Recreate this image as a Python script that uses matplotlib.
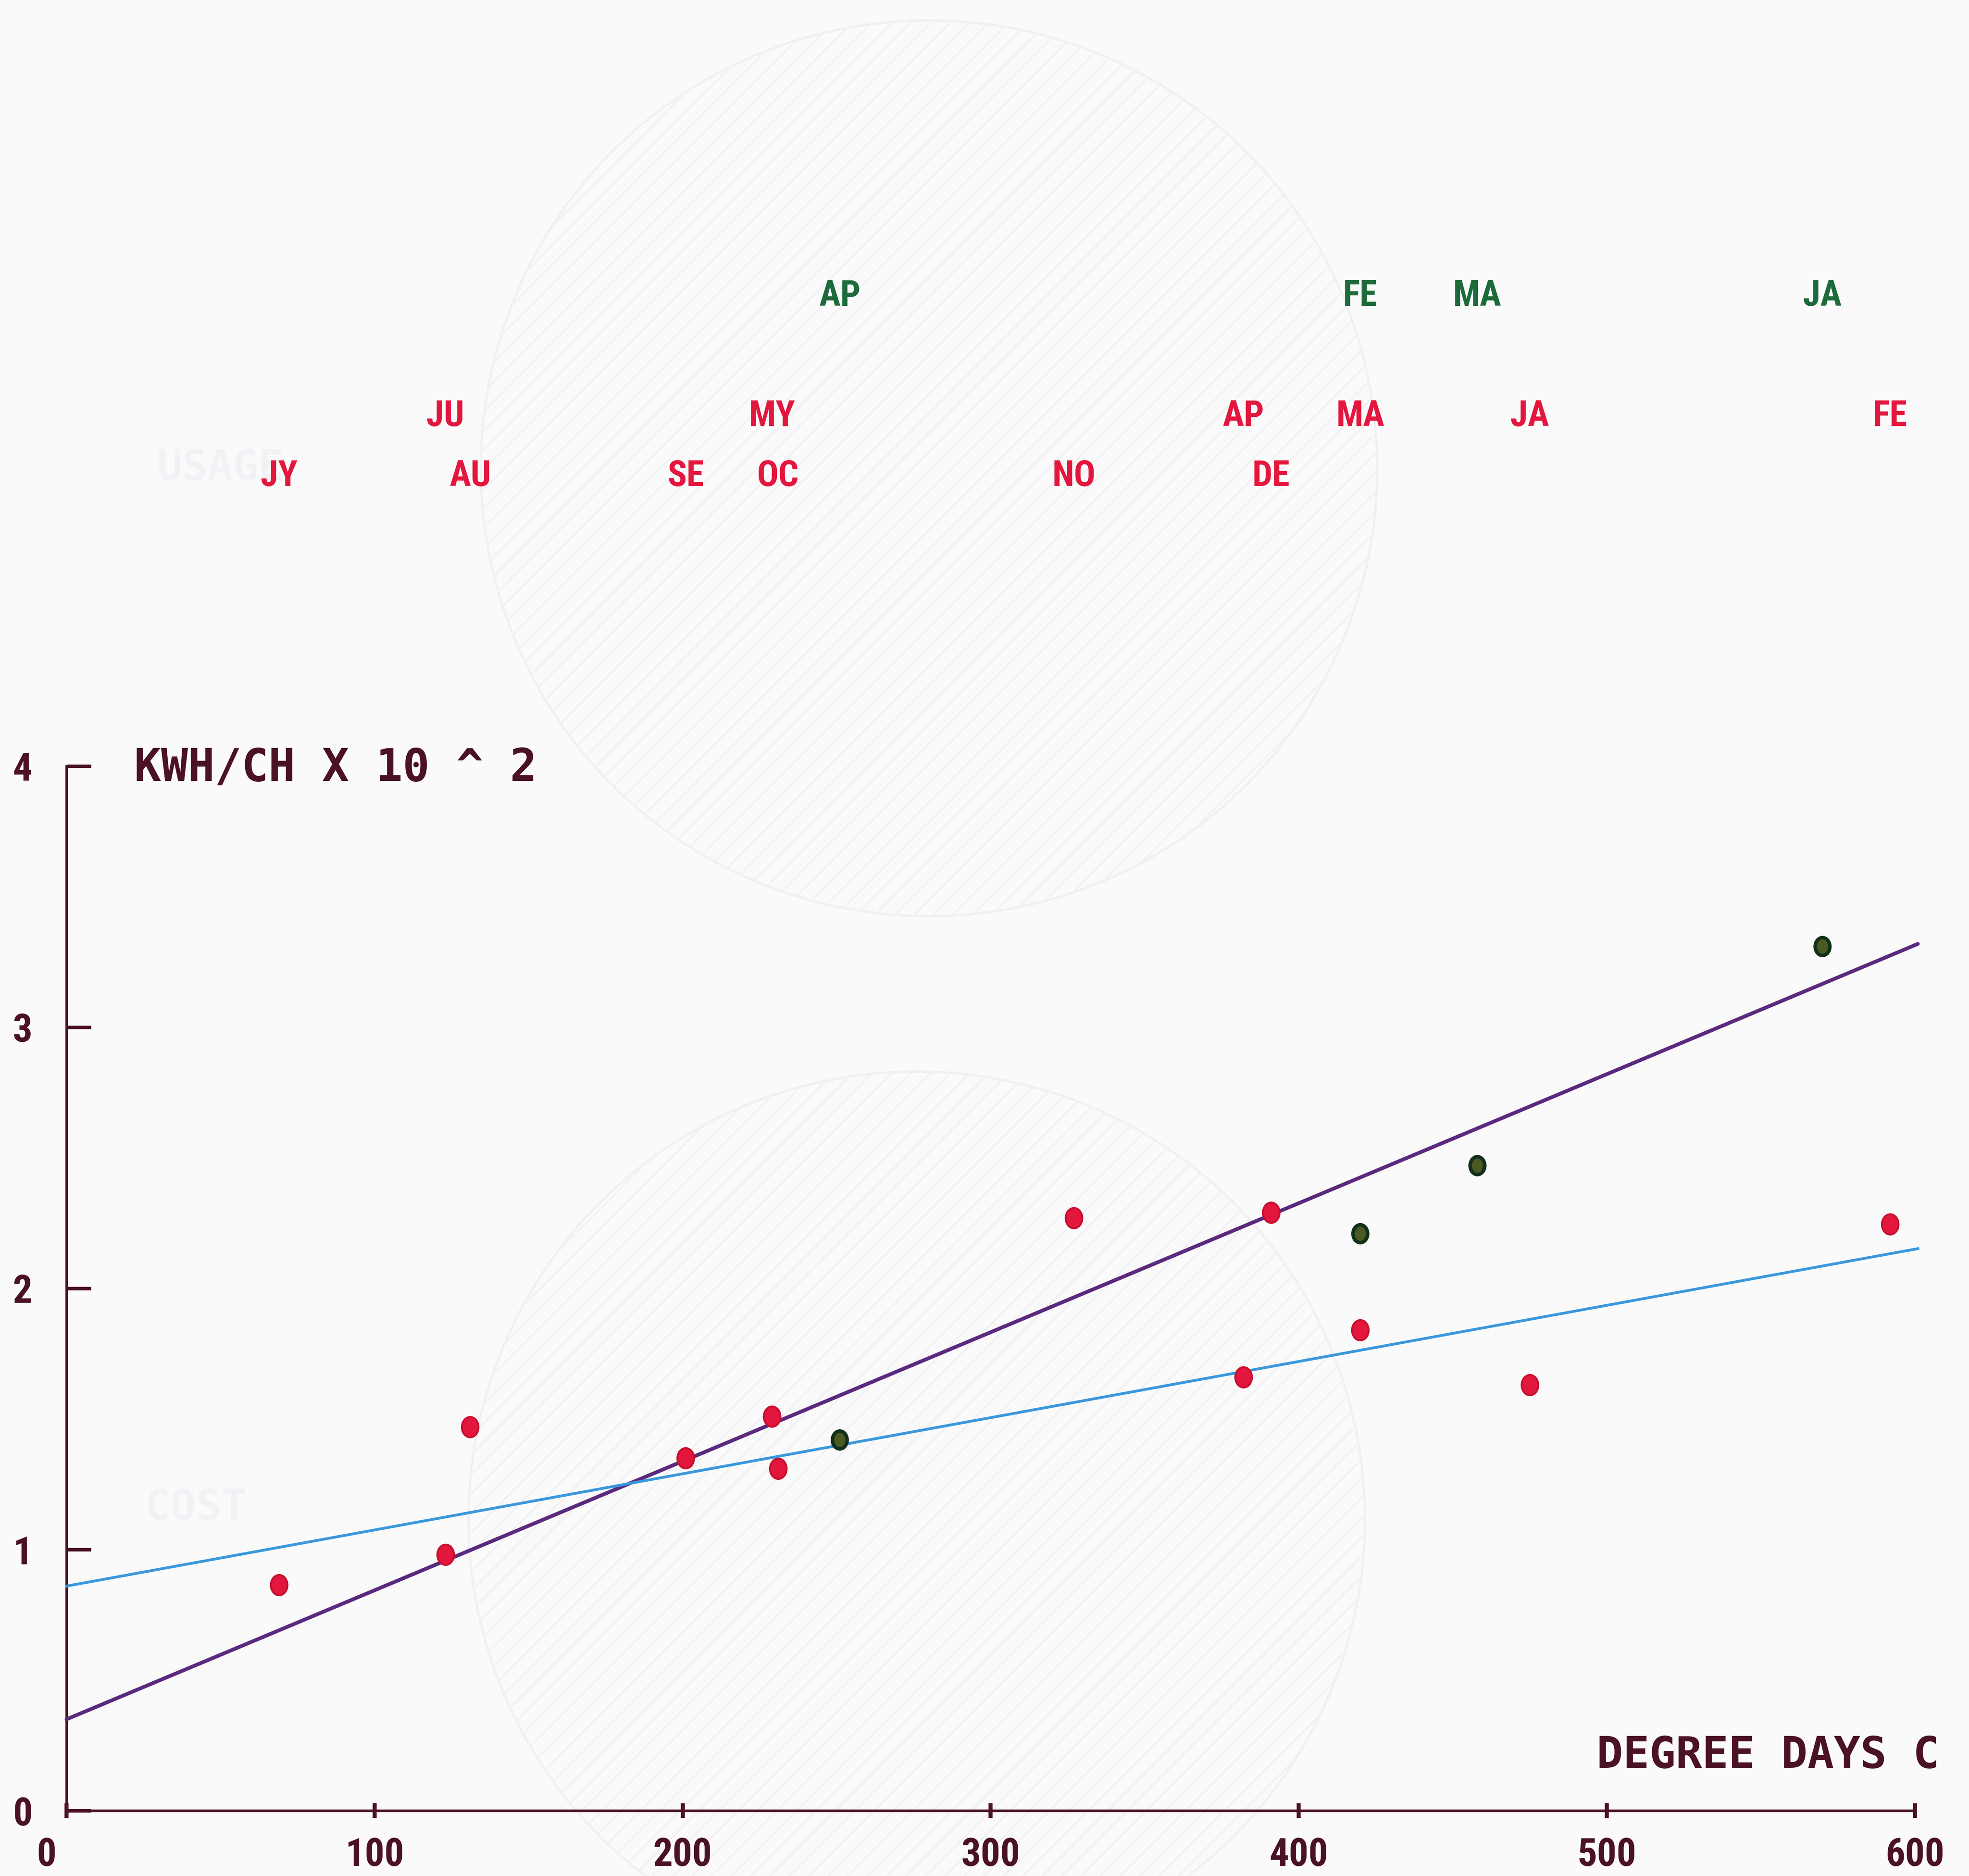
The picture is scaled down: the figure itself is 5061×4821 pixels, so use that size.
import numpy as np
import matplotlib
matplotlib.use("Agg")
import matplotlib.pyplot as plt
from matplotlib import font_manager
from matplotlib.patches import Ellipse
from matplotlib.path import Path

# red months (one year) and green months (next year)
red_months = ['JY', 'AU', 'SE', 'OC', 'NO', 'DE', 'JA', 'FE', 'MA', 'AP', 'MY', 'JU']
red_x = [69, 131, 201, 231, 327, 391, 475, 592, 420, 382, 229, 123]
red_y = [0.865, 1.47, 1.35, 1.31, 2.27, 2.29, 1.63, 2.245, 1.84, 1.66, 1.51, 0.98]

green_months = ['JA', 'FE', 'MA', 'AP']
green_x = [570, 420, 458, 251]
green_y = [3.31, 2.21, 2.47, 1.42]

# fitted lines: intercept, slope, x range
line_names = ['purple', 'blue']
line_a = [0.35, 0.86]
line_b = [0.00494, 0.00215]
line_x = [0, 601]

x_ticks = [0, 100, 200, 300, 400, 500, 600]
y_ticks = [0, 1, 2, 3, 4]

upper_row = ['JA', 'FE', 'MA', 'AP', 'MY', 'JU']

# narrow plotter-like lettering if some narrow family is around
fonts = font_manager.fontManager.ttflist
names = {f.name for f in fonts}
narrow = None
for n in ['Liberation Sans Narrow', 'Roboto Condensed', 'Open Sans Condensed', 'DejaVu Sans Condensed']:
    if n in names:
        narrow = n
        break
has_cond = any(f.name == 'DejaVu Sans' and f.stretch in ('condensed', 'semi-condensed') for f in fonts)
if narrow is None:
    narrow = 'DejaVu Sans'
    lab_size, tick_size = (21, 23) if has_cond else (19, 22)
else:
    lab_size, tick_size = 22, 24
stretch = 'condensed'
mono = 'DejaVu Sans Mono'

axis_col = '#4a1224'
red = '#e3173e'
green = '#1d6b3a'
purple = '#5b2a7e'
blue = '#3a98dc'
bg = '#fbfafb'

plt.rcParams['hatch.linewidth'] = 1.0
plt.rcParams['hatch.color'] = '#efeff5'
fig = plt.figure(figsize=(5061 / 300, 4821 / 300), dpi=300, facecolor=bg)
ax = fig.add_axes([0, 0, 1, 1])
ax.set_facecolor(bg)
ax.set_xlim(-21.6, 617.6)
ax.set_ylim(-0.25, 6.933)

# faint show-through from the other side of the page
for cx, cy in [(280, 5.14), (276, 1.115)]:
    ax.add_patch(Ellipse((cx, cy), 291, 3.43, facecolor='none', edgecolor='#f0f0f5',
                         hatch='//', lw=1.5, zorder=0))
ax.text(50, 5.14, 'USAGE', color='#f2f2f6', fontsize=26, fontweight='bold',
        family=mono, ha='center', va='center', zorder=0)
ax.text(42, 1.16, 'COST', color='#f2f2f6', fontsize=26, fontweight='bold',
        family=mono, ha='center', va='center', zorder=0)

# axes
for s in ['top', 'right']:
    ax.spines[s].set_visible(False)
ax.spines['left'].set_position(('data', 0))
ax.spines['bottom'].set_position(('data', 0))
ax.spines['left'].set_bounds(0, 4)
ax.spines['bottom'].set_bounds(0, 600)
for s in ['left', 'bottom']:
    ax.spines[s].set_color(axis_col)
    ax.spines[s].set_linewidth(1.6)

ax.set_yticks(y_ticks)
ax.set_yticklabels([str(v) for v in y_ticks])
ax.set_xticks(x_ticks)
ax.set_xticklabels([''] + [str(v) for v in x_ticks[1:]])
ax.tick_params(axis='y', direction='in', length=15, width=2.2, color=axis_col,
               pad=21, labelsize=tick_size, labelcolor=axis_col)
ax.tick_params(axis='x', direction='inout', length=9, width=2.5, color=axis_col,
               pad=11.5, labelsize=tick_size, labelcolor=axis_col)
for lab in ax.get_xticklabels() + ax.get_yticklabels():
    lab.set_family(narrow)
    lab.set_fontweight('bold')
    lab.set_fontstretch(stretch)
ax.annotate('0', xy=(0, 0), xytext=(-12.4, -16), textcoords='offset points',
            ha='center', va='top', fontsize=tick_size, fontweight='bold', family=narrow,
            fontstretch=stretch, color=axis_col)

ax.text(22, 3.99, 'KWH/CH X 10 ^ 2', family=mono, fontweight='bold', fontsize=27.5,
        color=axis_col, ha='left', va='center')
ax.text(608, 0.21, 'DEGREE DAYS C', family=mono, fontweight='bold', fontsize=27,
        color=axis_col, ha='right', va='center')

# fitted lines
xs = np.array(line_x)
ax.plot(xs, line_a[0] + line_b[0] * xs, color=purple, lw=2.3, solid_capstyle='round', zorder=3)
ax.plot(xs, line_a[1] + line_b[1] * xs, color=blue, lw=1.7, zorder=3)

# point marker: slightly tall rounded blob
circ = Path.unit_circle()
blob = Path(circ.vertices * np.array([0.82, 1.0]), circ.codes)

ax.plot(red_x, red_y, linestyle='none', marker=blob, markersize=12.5,
        markerfacecolor=red, markeredgecolor='#c8102e', markeredgewidth=1.2, zorder=4)
ax.plot(green_x, green_y, linestyle='none', marker=blob, markersize=11,
        markerfacecolor='#4a5a22', markeredgecolor='#12301a', markeredgewidth=2.2, zorder=4)

# month labels
for m, x in zip(red_months, red_x):
    yy = 5.34 if m in upper_row else 5.11
    ax.text(x, yy, m, color=red, family=narrow, fontweight='bold', fontsize=lab_size,
            fontstretch=stretch, ha='center', va='center')
for m, x in zip(green_months, green_x):
    ax.text(x, 5.80, m, color=green, family=narrow, fontweight='bold', fontsize=lab_size,
            fontstretch=stretch, ha='center', va='center')

fig.savefig('out.png', dpi=300, facecolor=bg)
